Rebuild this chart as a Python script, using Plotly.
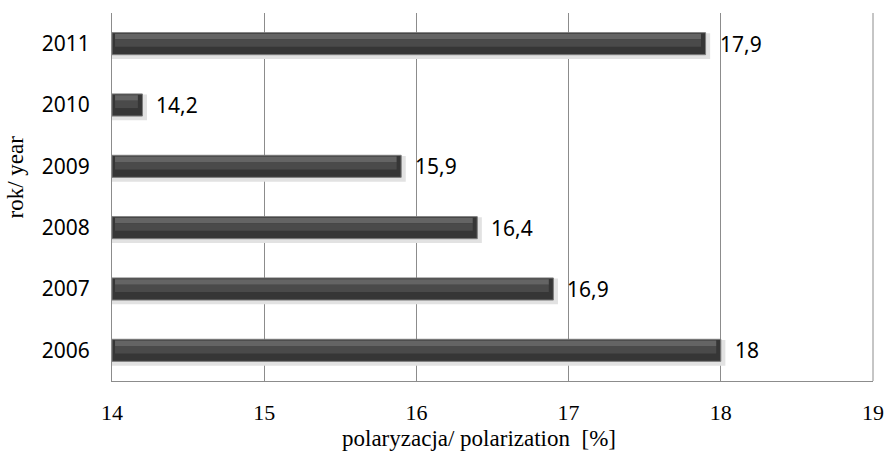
import plotly.graph_objects as go

years = ["2006", "2007", "2008", "2009", "2010", "2011"]
values = [18.0, 16.9, 16.4, 15.9, 14.2, 17.9]
labels = ["18", "16,9", "16,4", "15,9", "14,2", "17,9"]
x_start = 14
x_ticks = [14, 15, 16, 17, 18, 19]

pos = list(range(len(years)))
lengths = [v - x_start for v in values]
n = len(pos)

fig = go.Figure()
# soft shadow
fig.add_trace(go.Bar(
    y=pos, x=[l + 0.03 for l in lengths], base=[x_start] * n, orientation="h",
    width=0.42, offset=-0.25,
    marker=dict(color="#e2e2e2", line=dict(width=0)),
    hoverinfo="skip", showlegend=False,
))
# main bar
fig.add_trace(go.Bar(
    y=pos, x=lengths, base=[x_start] * n, orientation="h", width=0.36, offset=-0.18,
    marker=dict(color="#363636", line=dict(color="#7c7c7c", width=1)),
    hoverinfo="skip", showlegend=False,
))
# bevel bands
fig.add_trace(go.Bar(
    y=pos, x=[max(l - 0.05, 0) for l in lengths], base=[x_start + 0.02] * n, orientation="h",
    width=0.09, offset=0.07,
    marker=dict(color="#646464", line=dict(width=0)),
    hoverinfo="skip", showlegend=False,
))
fig.add_trace(go.Bar(
    y=pos, x=[max(l - 0.05, 0) for l in lengths], base=[x_start + 0.02] * n, orientation="h",
    width=0.12, offset=-0.05,
    marker=dict(color="#4a4a4a", line=dict(width=0)),
    hoverinfo="skip", showlegend=False,
))

for p, v, t in zip(pos, values, labels):
    fig.add_annotation(x=v, y=p, text=t, showarrow=False, xanchor="left",
                       xshift=12, font=dict(family="Noto Sans, sans-serif", size=21, color="#000"))

fig.add_annotation(xref="paper", yref="paper", x=0.482, y=-0.155, text="polaryzacja/ polarization  [%]",
                   showarrow=False, xanchor="center", yanchor="middle",
                   font=dict(family="Liberation Serif, serif", size=23, color="#000"))
fig.add_annotation(xref="paper", yref="paper", x=-0.127, y=0.554, text="rok/ year", textangle=-90,
                   showarrow=False, xanchor="center", yanchor="middle",
                   font=dict(family="Liberation Serif, serif", size=23, color="#000"))

fig.update_layout(
    width=887, height=454,
    margin=dict(l=112, r=14, t=13, b=73, autoexpand=False),
    paper_bgcolor="white", plot_bgcolor="white",
    barmode="overlay",
    xaxis=dict(range=[14, 19], tickvals=x_ticks, showgrid=True, gridcolor="#8c8c8c", gridwidth=1,
               showline=True, linecolor="#8c8c8c", linewidth=1, mirror=False,
               zeroline=False, ticks="", automargin=False, ticklabelstandoff=12,
               tickfont=dict(family="Liberation Serif, serif", size=22, color="#000")),
    yaxis=dict(range=[-0.5, n - 0.5], tickvals=pos, ticktext=years, showline=True,
               linecolor="#8c8c8c", automargin=False, zeroline=False,
               linewidth=1, ticks="", showgrid=False, ticklabelstandoff=17,
               tickfont=dict(family="Noto Sans, sans-serif", size=21, color="#000")),
)
fig.add_shape(type="line", xref="paper", yref="paper", x0=1, x1=1, y0=0, y1=1,
              line=dict(color="#8c8c8c", width=1))
fig.write_html("out.html", post_script="document.body.style.margin='0';",
               config={"displayModeBar": False})
